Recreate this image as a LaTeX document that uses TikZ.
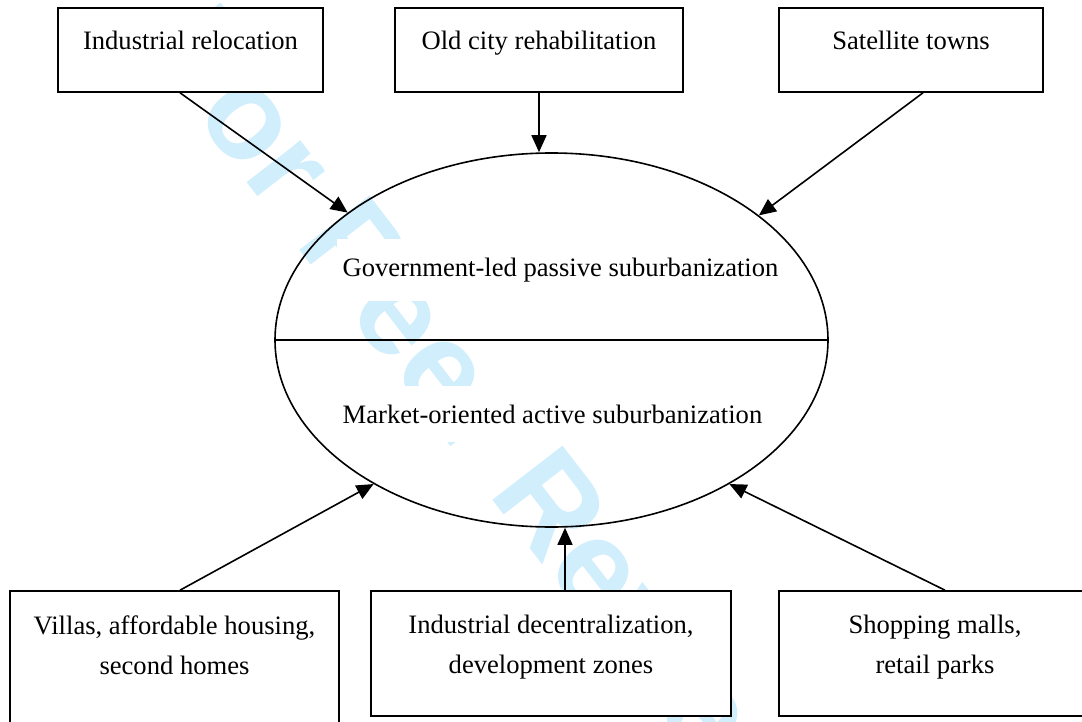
\documentclass[tikz,border=0pt]{standalone}
\usepackage{xcolor}
\usepackage{fontspec}
\setmainfont{Liberation Serif}
\newfontfamily\wmfont{Liberation Sans}
\usepackage{tikz}
\usetikzlibrary{arrows.meta,shapes.geometric}
\definecolor{wmblue}{RGB}{208,238,252}

\begin{document}
\begin{tikzpicture}[x=0.5pt,y=-0.5pt,
    box/.style={draw, fill=white, line width=0.8pt, align=center, inner sep=0pt,
        font=\fontsize{13.3}{20}\selectfont},
    oneline/.style={text height=6pt, text depth=6pt},
    twoline/.style={text height=26pt, text depth=6pt},
    eltext/.style={fill=white, inner xsep=3pt, inner ysep=9.5pt,
        font=\fontsize{13.3}{20}\selectfont},
    arr/.style={-{Triangle[length=8.5pt,width=7.5pt]}, line width=0.8pt}]
    \useasboundingbox (0,0) rectangle (1082,722);
    \clip (0,0) rectangle (1082,722);
    % watermark
    \node[anchor=base west, rotate=-52.3, inner sep=0pt, text=wmblue,
        font=\wmfont\bfseries\fontsize{64.5}{70}\selectfont] (watermark) at (145.1,50.6) {For Peer Review};
    % central ellipse
    \node[eltext] (govled) at (560.5,270) {Government-led passive suburbanization};
    \node[eltext] (market) at (552.5,414) {Market-oriented active suburbanization};
    \node[draw, ellipse, line width=0.8pt, inner sep=0pt,
        minimum width=276.5pt, minimum height=187pt] (suburb) at (551.5,340) {};
    \draw[line width=0.8pt] (suburb.west) -- (suburb.east);
    % top boxes
    \node[box, oneline, minimum width=132.5pt, minimum height=42pt] (reloc) at (190.5,50) {Industrial relocation};
    \node[box, oneline, minimum width=144pt, minimum height=42pt] (rehab) at (539,50) {Old city rehabilitation};
    \node[box, oneline, minimum width=132pt, minimum height=42pt] (satel) at (911,50) {Satellite towns};
    % bottom boxes
    \node[box, text height=20pt, text depth=6pt, minimum width=164.5pt, minimum height=69pt] (villas) at (174.5,660) {Villas, affordable housing,\\second homes};
    \node[box, twoline, minimum width=180pt, minimum height=62.5pt] (decentr) at (551,653.5) {Industrial decentralization,\\development zones};
    \node[box, twoline, minimum width=156pt, minimum height=62.5pt] (malls) at (935,653.5) {Shopping malls,\\retail parks};
    % arrows
    \draw[arr] ([xshift=-5.25pt]reloc.south) -- (suburb.148.6);
    \draw[arr] (rehab.south) -- (rehab.south |- suburb.north);
    \draw[arr] ([xshift=6pt]satel.south) -- (suburb.31.3);
    \draw[arr] ([xshift=2.75pt]villas.north) -- (suburb.219);
    \draw[arr] ([xshift=7pt]decentr.north) -- ([xshift=7pt]decentr.north |- suburb.south);
    \draw[arr] ([xshift=5pt]malls.north) -- (suburb.321);
\end{tikzpicture}
\end{document}
